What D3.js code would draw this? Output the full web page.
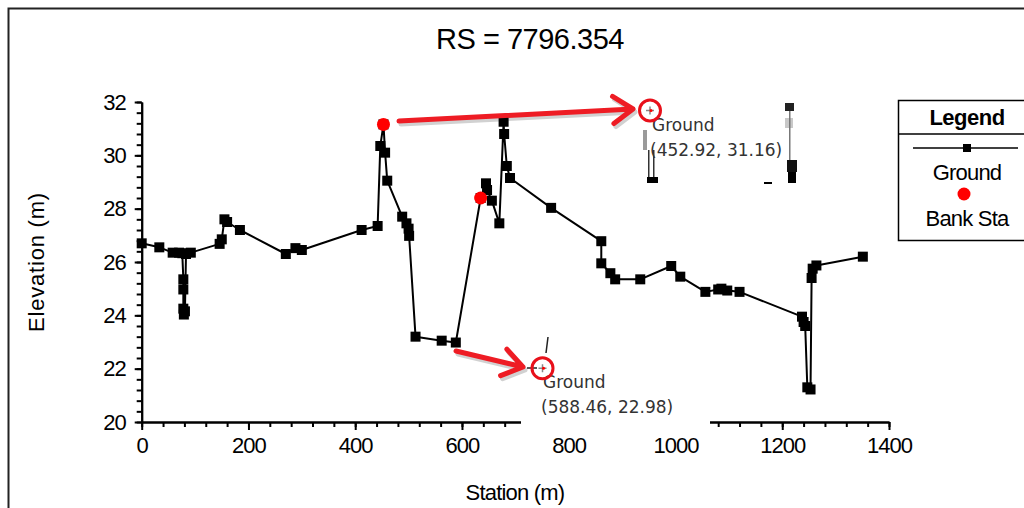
<!DOCTYPE html>
<html>
<head>
<meta charset="utf-8">
<script src="https://cdn.jsdelivr.net/npm/d3@7/dist/d3.min.js"></script>
<style>
  body { margin: 0; background: #fff; }
  svg { display: block; font-family: "Liberation Sans", Arial, sans-serif; }
</style>
</head>
<body>
<svg id="chart" width="1024" height="508"></svg>
<script>
// Ground profile (station, elevation)
var groundStation = [0, 33, 58, 70, 76, 78, 78, 78, 79, 81, 83, 92, 146, 150, 155, 160, 184, 270, 288, 300,
    412, 442, 447, 452.92, 456, 460, 488, 496, 500, 501, 513, 562, 588.46, 635, 645, 647, 656, 670,
    678, 679, 684, 690, 767, 861, 861, 878, 887, 934, 992, 1009, 1056, 1080, 1086, 1097, 1120,
    1237, 1240, 1243, 1247, 1253, 1255, 1257, 1264, 1351];
var groundElevation = [26.70, 26.55, 26.35, 26.35, 26.33, 25.35, 24.97, 24.25, 24.03, 24.15, 26.3, 26.35, 26.68, 26.85, 27.6, 27.5, 27.2, 26.3, 26.52, 26.45,
    27.2, 27.35, 30.35, 31.16, 30.1, 29.05, 27.7, 27.45, 27.25, 26.98, 23.2, 23.05, 22.98, 28.4, 28.95, 28.7, 28.3, 27.45,
    31.26, 30.8, 29.6, 29.15, 28.03, 26.78, 25.95, 25.58, 25.35, 25.35, 25.85, 25.45, 24.88, 24.97, 25.0, 24.93, 24.88,
    23.95, 23.75, 23.6, 21.3, 21.22, 25.4, 25.75, 25.87, 26.2];

// Bank stations
var bankStation = [452.92, 635];
var bankElevation = [31.16, 28.4];

// Axis ticks
var xTicks = [0, 200, 400, 600, 800, 1000, 1200, 1400];
var yTicks = [20, 22, 24, 26, 28, 30, 32];

var title = "RS = 7796.354";

var svg = d3.select("#chart");

var x = d3.scaleLinear().domain([0, 1400]).range([141.7, 889]),
    y = d3.scaleLinear().domain([20, 32]).range([422, 102]);

var ground = groundStation.map(function (s, i) { return { s: s, e: groundElevation[i] }; });
var banks = bankStation.map(function (s, i) { return { s: s, e: bankElevation[i] }; });

// outer frame
svg.append("path")
    .attr("d", "M8.5,508 V8.5 H1024")
    .attr("fill", "none")
    .attr("stroke", "#222")
    .attr("stroke-width", 2);

svg.append("text")
    .attr("x", 530)
    .attr("y", 49)
    .attr("text-anchor", "middle")
    .attr("font-size", 29)
    .attr("letter-spacing", -0.5)
    .text(title);

// axes: minor ticks first, then major ticks with labels
var minorX = d3.range(0, 1401, 40), minorY = d3.range(20, 32.01, 0.4);

svg.append("g")
    .attr("class", "axis")
    .attr("transform", "translate(0," + y(20) + ")")
    .call(d3.axisBottom(x).tickValues(minorX).tickSize(5).tickSizeOuter(0).tickFormat(""));

svg.append("g")
    .attr("class", "axis")
    .attr("transform", "translate(0," + y(20) + ")")
    .call(d3.axisBottom(x).tickValues(xTicks).tickSize(8).tickSizeOuter(0).tickPadding(7).tickFormat(d3.format("d")));

svg.append("g")
    .attr("class", "axis")
    .attr("transform", "translate(" + x(0) + ",0)")
    .call(d3.axisLeft(y).tickValues(minorY).tickSize(5).tickSizeOuter(0).tickFormat(""));

svg.append("g")
    .attr("class", "axis")
    .attr("transform", "translate(" + x(0) + ",0)")
    .call(d3.axisLeft(y).tickValues(yTicks).tickSize(7).tickSizeOuter(0).tickPadding(9).tickFormat(d3.format("d")));

svg.selectAll(".axis path, .axis line")
    .attr("stroke", "#000")
    .attr("stroke-width", 2);

svg.selectAll(".axis text")
    .attr("font-family", "Liberation Sans, Arial, sans-serif")
    .attr("font-size", 22)
    .attr("letter-spacing", -1)
    .attr("fill", "#000");

svg.append("text")
    .attr("transform", "translate(44,262) rotate(-90)")
    .attr("text-anchor", "middle")
    .attr("font-size", 22)
    .attr("letter-spacing", 0.8)
    .text("Elevation (m)");

svg.append("text")
    .attr("x", 515)
    .attr("y", 500)
    .attr("text-anchor", "middle")
    .attr("font-size", 22)
    .attr("letter-spacing", -0.8)
    .text("Station (m)");

// ground line + square markers
var line = d3.line()
    .x(function (d) { return x(d.s); })
    .y(function (d) { return y(d.e); });

svg.append("path")
    .datum(ground)
    .attr("d", line)
    .attr("fill", "none")
    .attr("stroke", "#000")
    .attr("stroke-width", 2)
    .attr("stroke-linejoin", "round");

svg.selectAll(".gpt")
    .data(ground)
    .enter()
    .append("rect")
    .attr("class", "gpt")
    .attr("x", function (d) { return x(d.s) - 5; })
    .attr("y", function (d) { return y(d.e) - 5; })
    .attr("width", 10)
    .attr("height", 10)
    .attr("fill", "#000");

svg.selectAll(".bank")
    .data(banks)
    .enter()
    .append("circle")
    .attr("class", "bank")
    .attr("cx", function (d) { return x(d.s); })
    .attr("cy", function (d) { return y(d.e); })
    .attr("r", 6.5)
    .attr("fill", "#f00");

// legend
var lg = svg.append("g");
lg.append("rect")
    .attr("x", 898.5).attr("y", 100.5)
    .attr("width", 140).attr("height", 140)
    .attr("fill", "#fff").attr("stroke", "#000").attr("stroke-width", 1.5);
lg.append("line")
    .attr("x1", 898).attr("x2", 1024).attr("y1", 134).attr("y2", 134)
    .attr("stroke", "#000").attr("stroke-width", 1.5);
lg.append("text")
    .attr("x", 967).attr("y", 125)
    .attr("text-anchor", "middle")
    .attr("font-size", 22).attr("font-weight", "bold").attr("letter-spacing", -0.5)
    .text("Legend");
lg.append("line")
    .attr("x1", 913).attr("x2", 1018).attr("y1", 148).attr("y2", 148)
    .attr("stroke", "#000").attr("stroke-width", 1.5);
lg.append("rect")
    .attr("x", 963).attr("y", 144).attr("width", 8).attr("height", 8)
    .attr("fill", "#000");
lg.append("text")
    .attr("x", 967).attr("y", 180)
    .attr("text-anchor", "middle")
    .attr("font-size", 22).attr("letter-spacing", -0.8)
    .text("Ground");
lg.append("circle")
    .attr("cx", 964).attr("cy", 194).attr("r", 6.5)
    .attr("fill", "#f00");
lg.append("text")
    .attr("x", 967).attr("y", 226)
    .attr("text-anchor", "middle")
    .attr("font-size", 22).attr("letter-spacing", -0.8)
    .text("Bank Sta");

// pasted tooltip over the axis
svg.append("rect")
    .attr("x", 521).attr("y", 330)
    .attr("width", 189).attr("height", 102)
    .attr("fill", "#fff");

// screenshot leftovers near the upper tooltip
var bits = [
    [643, 130, 4, 20, "#9a9a9a"], [648, 150, 1.5, 28, "#333"], [653, 150, 1.5, 28, "#333"],
    [647, 177, 11, 6, "#000"], [785, 103, 9, 8, "#222"], [785, 118, 8, 10, "#c8c8c8"],
    [789, 111, 1.5, 50, "#777"], [787, 160, 10, 12, "#111"], [788, 172, 8, 11, "#000"],
    [764, 182, 8, 2, "#000"]
];
svg.selectAll(".bit")
    .data(bits)
    .enter()
    .append("rect")
    .attr("class", "bit")
    .attr("x", function (d) { return d[0]; })
    .attr("y", function (d) { return d[1]; })
    .attr("width", function (d) { return d[2]; })
    .attr("height", function (d) { return d[3]; })
    .attr("fill", function (d) { return d[4]; });

// tooltip texts
var tips = [
    { x: 652, y: 131, lines: ["Ground", "(452.92, 31.16)"] },
    { x: 543, y: 388, lines: ["Ground", "(588.46, 22.98)"] }
];
tips.forEach(function (t) {
    t.lines.forEach(function (s, i) {
        svg.append("text")
            .attr("x", t.x - (i ? 2 : 0))
            .attr("y", t.y + i * 25)
            .attr("font-family", "DejaVu Sans, sans-serif")
            .attr("font-size", 17)
            .attr("fill", "#333")
            .text(s);
    });
});

svg.append("line")
    .attr("x1", 548).attr("y1", 337).attr("x2", 546).attr("y2", 353)
    .attr("stroke", "#222").attr("stroke-width", 1.5);
svg.append("line")
    .attr("x1", 527).attr("y1", 368).attr("x2", 537).attr("y2", 368)
    .attr("stroke", "#222").attr("stroke-width", 1.5);

// red circles + arrows
var marks = [[650, 110.5], [542.5, 368.3]];
marks.forEach(function (m) {
    svg.append("path")
        .attr("d", "M" + (m[0] - 4) + "," + m[1] + "h8M" + m[0] + "," + (m[1] - 4) + "v8")
        .attr("stroke", "#888").attr("stroke-width", 1.5);
    svg.append("circle")
        .attr("cx", m[0] + 1).attr("cy", m[1]).attr("r", 1.5).attr("fill", "#f00");
    svg.append("circle")
        .attr("cx", m[0]).attr("cy", m[1]).attr("r", 10.5)
        .attr("fill", "none").attr("stroke", "#e8101a").attr("stroke-width", 3);
});

var arrows = [
    { x1: 399, y1: 121, x2: 633, y2: 109 },
    { x1: 456, y1: 351, x2: 523, y2: 367 }
];
arrows.forEach(function (a) {
    var ang = Math.atan2(a.y2 - a.y1, a.x2 - a.x1), L = 24, w = 0.6;
    var d = "M" + a.x1 + "," + a.y1 + "L" + a.x2 + "," + a.y2 +
        "M" + (a.x2 - L * Math.cos(ang - w)) + "," + (a.y2 - L * Math.sin(ang - w)) +
        "L" + a.x2 + "," + a.y2 +
        "L" + (a.x2 - L * Math.cos(ang + w)) + "," + (a.y2 - L * Math.sin(ang + w));
    svg.append("path")
        .attr("d", d)
        .attr("transform", "translate(2,3)")
        .attr("fill", "none").attr("stroke", "rgba(0,0,0,0.18)")
        .attr("stroke-width", 5).attr("stroke-linecap", "round").attr("stroke-linejoin", "round");
    svg.append("path")
        .attr("d", d)
        .attr("fill", "none").attr("stroke", "#ee1c24")
        .attr("stroke-width", 5).attr("stroke-linecap", "round").attr("stroke-linejoin", "round");
});
</script>
</body>
</html>
